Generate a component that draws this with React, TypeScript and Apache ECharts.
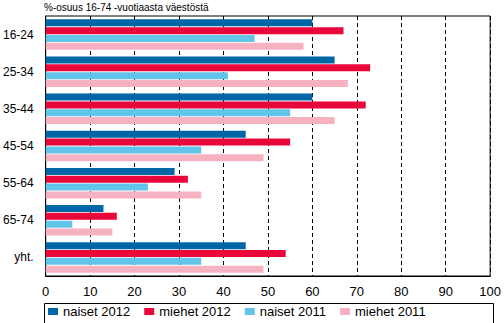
import React, { useEffect, useRef } from "react";
import * as echarts from "echarts";

const categories = ["16-24", "25-34", "35-44", "45-54", "55-64", "65-74", "yht."];
const seriesNames = ["naiset 2012", "miehet 2012", "naiset 2011", "miehet 2011"];
const naiset2012 = [60, 65, 60, 45, 29, 13, 45];
const miehet2012 = [67, 73, 72, 55, 32, 16, 54];
const naiset2011 = [47, 41, 55, 35, 23, 6, 35];
const miehet2011 = [58, 68, 65, 49, 35, 15, 49];
const xTicks = [0, 10, 20, 30, 40, 50, 60, 70, 80, 90, 100];
const titleText = "%-osuus 16-74 -vuotiaasta väestöstä";

const colors = ["#0066a6", "#e9063b", "#63c4e9", "#f7b2c2"];
const FONT = "Liberation Sans";

export default function App() {
  const ref = useRef<HTMLDivElement>(null);
  useEffect(() => {
    if (!ref.current) return;
    const chart = echarts.init(ref.current, null, { renderer: "svg" });
    const data = [naiset2012, miehet2012, naiset2011, miehet2011];
    chart.setOption({
      animation: false,
      backgroundColor: "#ffffff",
      color: colors,
      grid: {
        left: 44,
        right: 11,
        top: 16,
        bottom: 47,
        show: true,
        borderColor: "#000",
        borderWidth: 1,
        containLabel: false,
      },
      graphic: [
        {
          type: "text",
          left: 44,
          top: 2,
          style: { text: titleText, font: `10px "${FONT}"`, fill: "#000" },
        },
        {
          type: "rect",
          shape: { x: 44.5, y: 303.5, width: 449, height: 30 },
          style: { fill: "none", stroke: "#000", lineWidth: 1 },
        },
      ],
      legend: {
        left: 44,
        top: 305,
        padding: [0, 4],
        itemWidth: 10,
        itemHeight: 7,
        itemGap: 14,
        icon: "rect",
        textStyle: { fontFamily: FONT, fontSize: 13, color: "#000" },
        data: seriesNames,
      },
      xAxis: {
        type: "value",
        min: 0,
        max: 100,
        interval: 10,
        axisLine: { show: true, lineStyle: { color: "#000" } },
        axisTick: { show: false },
        axisLabel: {
          color: "#000",
          fontFamily: FONT,
          fontSize: 13,
          margin: 9,
          formatter: (v: number) => (xTicks.includes(v) ? String(v) : ""),
        },
        splitLine: {
          show: true,
          lineStyle: { color: "#000", type: [4, 3], width: 1 },
        },
      },
      yAxis: {
        type: "category",
        inverse: true,
        data: categories,
        axisLine: { show: true, lineStyle: { color: "#000" } },
        axisTick: { show: false },
        axisLabel: { color: "#000", fontFamily: FONT, fontSize: 12, margin: 12 },
        splitLine: { show: false },
      },
      series: seriesNames.map((name, i) => ({
        name,
        type: "bar",
        data: data[i],
        barWidth: 7,
        barGap: "12%",
        itemStyle: { color: colors[i] },
      })),
    });
    return () => chart.dispose();
  }, []);
  return <div ref={ref} style={{ width: 504, height: 323, position: "absolute", left: 0, top: 0 }} />;
}
